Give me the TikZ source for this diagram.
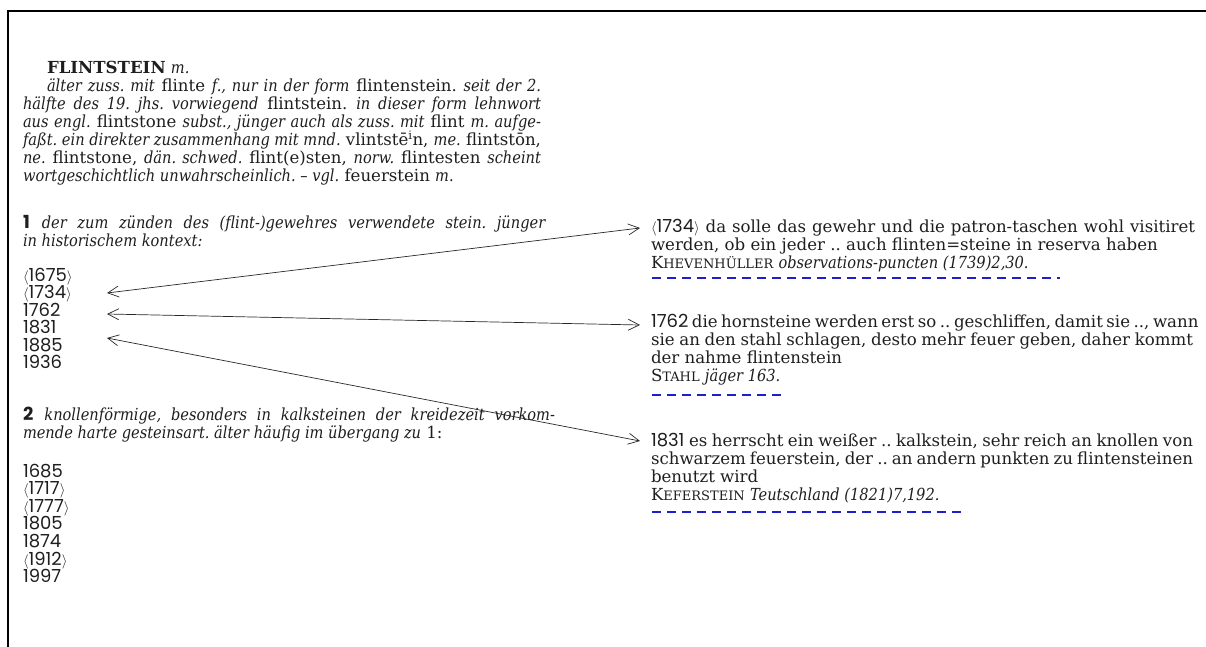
\documentclass[tikz,border=0pt]{standalone}
\usepackage{fontspec}
\setmainfont{DejaVu Serif}[ItalicFeatures={FakeStretch=0.88}, BoldItalicFeatures={FakeStretch=0.88}]
\newfontfamily\yr{Poppins}
\usetikzlibrary{arrows.meta}
\definecolor{dashblue}{RGB}{30,30,205}
\definecolor{arrowgray}{RGB}{40,40,40}
\definecolor{ink}{RGB}{30,30,30}
\tikzset{
  txt/.style={anchor=base west, inner sep=0pt, outer sep=0pt, text=ink, font=\fontsize{16.6}{18}\selectfont},
  yrtxt/.style={anchor=base west, inner sep=0pt, outer sep=0pt, text=ink, text height=11pt, text depth=2pt, font=\yr\fontsize{18}{18}\selectfont},
  biarrow/.style={draw=arrowgray, line width=0.7pt, {Straight Barb[length=11pt,width=11pt]}-{Straight Barb[length=11pt,width=11pt]}},
  srcline/.style={draw=dashblue, line width=2pt, dash pattern=on 9pt off 6pt},
  frame/.style={draw=black, line width=2.2pt}
}
\newcommand{\jl}[2]{\makebox[#1pt][s]{#2}}
\newcommand{\yy}[1]{{\yr\fontsize{18}{18}\selectfont #1}}
\newcommand{\snum}[1]{{\yr\bfseries\fontsize{18}{18}\selectfont #1}}
\newcommand{\fsc}[2]{#1{\fontsize{13}{13}\selectfont #2}}
\newcommand{\lang}{{\fontsize{14}{14}\selectfont$\langle$}}
\newcommand{\rang}{{\fontsize{14}{14}\selectfont$\rangle$}}
\frenchspacing
\begin{document}
\begin{tikzpicture}[x=1pt,y=-1pt]
\useasboundingbox (0,0) rectangle (1206,647);
\draw[frame] (8,647) -- (8,11) -- (1206,11);
% headword and etymology
\node[txt] (head) at (47,74) {\textbf{FLINTSTEIN} \textit{m.}};
\node[txt] (e1) at (47,92) {\jl{494}{\textit{älter zuss. mit} flinte \textit{f., nur in der form} flintenstein. \textit{seit der 2.}}};
\node[txt] (e2) at (23,110) {\jl{518}{\textit{hälfte des 19. jhs. vorwiegend} flintstein. \textit{in dieser form lehnwort}}};
\node[txt] (e3) at (23,128) {\jl{518}{\textit{aus engl.} flintstone \textit{subst., jünger auch als zuss. mit} flint \textit{m. aufge-}}};
\node[txt] (e4) at (23,146) {\jl{518}{\textit{faßt. ein direkter zusammenhang mit mnd.} vlintst\=e\textsuperscript{i}n, \textit{me.} flintst\=on,}};
\node[txt] (e5) at (23,164) {\jl{518}{\textit{ne.} flintstone, \textit{dän. schwed.} flint(e)sten, \textit{norw.} flintesten \textit{scheint}}};
\node[txt] (e6) at (23,182) {\textit{wortgeschichtlich unwahrscheinlich. -- vgl.} feuerstein \textit{m.}};
% sense 1
\node[txt] (s1a) at (23,228) {\jl{523}{\snum{1} \textit{der zum zünden des (flint-)gewehres verwendete stein. jünger}}};
\node[txt] (s1b) at (23,246) {\textit{in historischem kontext:}};
\node[yrtxt] (y1675) at (23,281) {\lang 1675\rang};
\node[yrtxt] (y1734) at (23,298.5) {\lang 1734\rang};
\node[yrtxt] (y1762) at (23,316) {1762};
\node[yrtxt] (y1831) at (23,333.5) {1831};
\node[yrtxt] (y1885) at (23,351) {1885};
\node[yrtxt] (y1936) at (23,368.5) {1936};
% sense 2
\node[txt] (s2a) at (23,420) {\jl{532}{\snum{2} \textit{knollenförmige, besonders in kalksteinen der kreidezeit vorkom-}}};
\node[txt] (s2b) at (23,438) {\textit{mende harte gesteinsart. älter häufig im übergang zu} 1:};
\node[yrtxt] (y1685) at (23,477) {1685};
\node[yrtxt] (y1717) at (23,494.6) {\lang 1717\rang};
\node[yrtxt] (y1777) at (23,512.2) {\lang 1777\rang};
\node[yrtxt] (y1805) at (23,529.8) {1805};
\node[yrtxt] (y1874) at (23,547.4) {1874};
\node[yrtxt] (y1912) at (23,565) {\lang 1912\rang};
\node[yrtxt] (y1997) at (23,582.6) {1997};
% quotation 1734
\node[txt] (q1734) at (651,232) {\jl{544}{\yy{\lang 1734\rang} da solle das gewehr und die patron-taschen wohl visitiret}};
\node[txt] (q1734b) at (651,250) {werden, ob ein jeder .. auch flinten=steine in reserva haben};
\node[txt] (q1734c) at (651,268) {\fsc{K}{HEVENHÜLLER} \textit{observations-puncten (1739)2,30.}};
\coordinate (d1734a) at (652,278);
\coordinate (d1734b) at (1060,278);
\draw[srcline] (d1734a) -- (d1734b);
% quotation 1762
\node[txt] (q1762) at (651,327) {\jl{544}{\yy{1762} die hornsteine werden erst so .. geschliffen, damit sie .., wann}};
\node[txt] (q1762b) at (651,345) {\jl{542}{sie an den stahl schlagen, desto mehr feuer geben, daher kommt}};
\node[txt] (q1762c) at (651,363) {der nahme flintenstein};
\node[txt] (q1762d) at (651,381) {\fsc{S}{TAHL} \textit{jäger 163.}};
\coordinate (d1762a) at (652,395);
\coordinate (d1762b) at (785,395);
\draw[srcline] (d1762a) -- (d1762b);
% quotation 1831
\node[txt] (q1831) at (651,446) {\jl{542}{\yy{1831} es herrscht ein weißer .. kalkstein, sehr reich an knollen von}};
\node[txt] (q1831b) at (651,464) {\jl{542}{schwarzem feuerstein, der .. an andern punkten zu flintensteinen}};
\node[txt] (q1831c) at (651,482) {benutzt wird};
\node[txt] (q1831d) at (651,500) {\fsc{K}{EFERSTEIN} \textit{Teutschland (1821)7,192.}};
\coordinate (d1831a) at (652,512);
\coordinate (d1831b) at (962,512);
\draw[srcline] (d1831a) -- (d1831b);
% connectors
\coordinate (a1734L) at (107,293);
\coordinate (a1734R) at (640,228);
\coordinate (a1762L) at (107,314);
\coordinate (a1762R) at (640,325);
\coordinate (a1831L) at (107,338);
\coordinate (a1831R) at (640,441);
\draw[biarrow] (a1734L) -- (a1734R);
\draw[biarrow] (a1762L) -- (a1762R);
\draw[biarrow] (a1831L) -- (a1831R);
\end{tikzpicture}
\end{document}
